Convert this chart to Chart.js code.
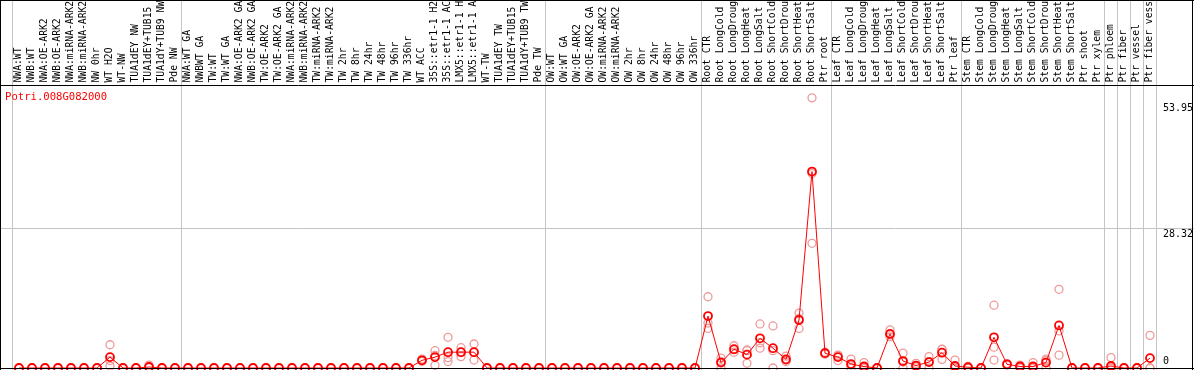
<!DOCTYPE html>
<html>
<head>
<meta charset="utf-8">
<script src="https://cdn.jsdelivr.net/npm/chart.js@4.4.1/dist/chart.umd.min.js"></script>
<style>
  html, body { margin: 0; padding: 0; background: #fff; }
  #wrap { width: 1194px; height: 370px; }
</style>
</head>
<body>
<div id="wrap"><canvas id="expChart" width="1194" height="370"></canvas></div>
<script>
const geneName = "Potri.008G082000";

const categories = [
  "NWA:WT", "NWB:WT", "NWA:OE-ARK2", "NWB:OE-ARK2", "NWA:miRNA-ARK2", "NWB:miRNA-ARK2",
  "NW 0hr", "WT H2O", "WT-NW", "TUA1dEY NW", "TUA1dEY+TUB15 NW", "TUA1dY+TUB9 NW", "Pde NW",
  "NWA:WT GA", "NWBWT GA", "TW:WT", "TW:WT GA", "NWA:OE-ARK2 GA", "NWB:OE-ARK2 GA",
  "TW:OE-ARK2", "TW:OE-ARK2 GA", "NWA:miRNA-ARK2", "NWB:miRNA-ARK2", "TW:miRNA-ARK2",
  "TW:miRNA-ARK2", "TW 2hr", "TW 8hr", "TW 24hr", "TW 48hr", "TW 96hr", "TW 336hr",
  "WT ACC", "35S::etr1-1 H2O", "35S::etr1-1 ACC", "LMX5::etr1-1 H2O", "LMX5::etr1-1 ACC",
  "WT-TW", "TUA1dEY TW", "TUA1dEY+TUB15 TW", "TUA1dY+TUB9 TW", "Pde TW",
  "OW:WT", "OW:WT GA", "OW:OE-ARK2", "OW:OE-ARK2 GA", "OW:miRNA-ARK2", "OW:miRNA-ARK2",
  "OW 2hr", "OW 8hr", "OW 24hr", "OW 48hr", "OW 96hr", "OW 336hr",
  "Root CTR", "Root LongCold", "Root LongDrought", "Root LongHeat", "Root LongSalt",
  "Root ShortCold", "Root ShortDrought", "Root ShortHeat", "Root ShortSalt", "Ptr root",
  "Leaf CTR", "Leaf LongCold", "Leaf LongDrought", "Leaf LongHeat", "Leaf LongSalt",
  "Leaf ShortCold", "Leaf ShortDrought", "Leaf ShortHeat", "Leaf ShortSalt", "Ptr leaf",
  "Stem CTR", "Stem LongCold", "Stem LongDrought", "Stem LongHeat", "Stem LongSalt",
  "Stem ShortCold", "Stem ShortDrought", "Stem ShortHeat", "Stem ShortSalt", "Ptr shoot",
  "Ptr xylem", "Ptr phloem", "Ptr fiber", "Ptr vessel", "Ptr fiber vessel"
];

// mean expression per sample
const means = [
  0, 0, 0, 0, 0, 0, 0, 2.2, 0, 0, 0.2, 0, 0,
  0, 0, 0, 0, 0, 0, 0, 0, 0, 0, 0, 0, 0, 0, 0, 0, 0, 0,
  1.55, 2.2, 3.2, 3.2, 3.2, 0, 0, 0, 0, 0,
  0, 0, 0, 0, 0, 0, 0, 0, 0, 0, 0, 0,
  10.5, 1.1, 3.8, 2.7, 6.0, 4.0, 1.75, 9.7, 39.7, 3.0,
  2.2, 0.8, 0.3, 0, 6.9, 1.4, 0.5, 1.2, 3.1, 0.4,
  0.15, 0, 6.2, 0.75, 0.3, 0.3, 1.1, 8.6, 0, 0,
  0, 0.4, 0, 0, 2.0
];

// replicate values
const repA = [
  0, 0, 0, 0, 0, 0, 0, 4.7, 0, 0, 0.6, 0, 0,
  0, 0, 0, 0, 0, 0, 0, 0, 0, 0, 0, 0, 0, 0, 0, 0, 0, 0,
  1.8, 3.5, 6.2, 4.1, 4.85, 0, 0, 0, 0, 0,
  0, 0, 0, 0, 0, 0, 0, 0, 0, 0, 0, 0,
  14.4, 2.0, 4.5, 3.5, 8.9, 8.5, 2.4, 11.1, 54.6, 3.2,
  2.6, 1.8, 1.1, 0, 7.7, 3.0, 0.95, 2.3, 3.8, 1.6,
  0.3, 0, 12.7, 0.9, 0.6, 1.1, 1.8, 15.9, 0, 0,
  0, 2.1, 0, 0, 6.6
];
const repB = [
  0, 0, 0, 0, 0, 0, 0, 0.4, 0, 0, 0.2, 0, 0,
  0, 0, 0, 0, 0, 0, 0, 0, 0, 0, 0, 0, 0, 0, 0, 0, 0, 0,
  1.5, 0.55, 1.3, 2.3, 1.6, 0, 0, 0, 0, 0,
  0, 0, 0, 0, 0, 0, 0, 0, 0, 0, 0, 0,
  8.0, 0, 3.2, 0.95, 4.0, 0, 1.3, 8.0, 25.2, 2.8,
  1.5, 0, 0, 0, 6.3, 0, 0.3, 0, 1.75, 0,
  0.15, 0, 4.2, 0.75, 0.3, 0, 0, 7.5, 0, 0,
  0, 0, 0, 0, 0
];
const repC = [
  0, 0, 0, 0, 0, 0, 0, 1.5, 0, 0, 0.1, 0, 0,
  0, 0, 0, 0, 0, 0, 0, 0, 0, 0, 0, 0, 0, 0, 0, 0, 0, 0,
  1.35, 2.55, 2.1, 3.2, 3.15, 0, 0, 0, 0, 0,
  0, 0, 0, 0, 0, 0, 0, 0, 0, 0, 0, 0,
  9.1, 1.3, 3.7, 3.65, 5.1, 3.5, 1.55, 10.0, 39.3, 3.0,
  2.5, 0.6, 0, 0, 6.7, 1.2, 0.25, 1.3, 3.75, 0,
  0, 0, 1.6, 0.6, 0, 0, 1.5, 2.6, 0, 0,
  0, 0, 0, 0, 0
];

const yTicks = [0, 28.32, 53.95];
const gridTicks = [28.32];
// sample index where a new group starts (grey separator drawn before it)
const groupStarts = [0, 13, 41, 53, 63, 73, 84, 85, 86, 87, 88];

const monoFont = "'DejaVu Sans Mono', 'Liberation Mono', monospace";

// === dessin de l'en-tête, des séparateurs et des bordures ===
const framePlugin = {
  id: "frame",
  beforeDraw(chart) {
    const { ctx, width, height } = chart;
    const x = chart.scales.x;
    const y = chart.scales.y;
    const half = (x.getPixelForValue(1) - x.getPixelForValue(0)) / 2;
    ctx.save();
    ctx.fillStyle = "#fff";
    ctx.fillRect(0, 0, width, height);
    ctx.strokeStyle = "#c4c4c4";
    ctx.lineWidth = 1;
    groupStarts.forEach(i => {
      const px = Math.round(x.getPixelForValue(0) - half + i * half * 2) - 0.5;
      ctx.beginPath();
      ctx.moveTo(px, 0);
      ctx.lineTo(px, height);
      ctx.stroke();
    });
    gridTicks.forEach(v => {
      const py = Math.round(y.getPixelForValue(v)) + 0.5;
      ctx.beginPath();
      ctx.moveTo(0, py);
      ctx.lineTo(width, py);
      ctx.stroke();
    });
    ctx.restore();
  },
  afterDraw(chart) {
    const { ctx, width, height } = chart;
    const x = chart.scales.x;
    const y = chart.scales.y;
    ctx.save();
    ctx.strokeStyle = "#000";
    ctx.lineWidth = 1;
    ctx.beginPath();
    ctx.moveTo(0, 0.5); ctx.lineTo(width, 0.5);
    ctx.moveTo(0, 85.5); ctx.lineTo(width, 85.5);
    ctx.moveTo(0.5, 0); ctx.lineTo(0.5, height);
    ctx.moveTo(1192.5, 0); ctx.lineTo(1192.5, height);
    ctx.moveTo(0, 368.5); ctx.lineTo(width, 368.5);
    ctx.stroke();

    // category labels, rotated
    ctx.fillStyle = "#000";
    ctx.font = "9.7px " + monoFont;
    ctx.textAlign = "left";
    ctx.textBaseline = "middle";
    categories.forEach((lab, i) => {
      ctx.save();
      ctx.translate(x.getPixelForValue(i) - 0.5, 82.5);
      ctx.rotate(-Math.PI / 2);
      ctx.fillText(lab, 0, 0);
      ctx.restore();
    });

    // y tick labels on the right
    ctx.font = "10px " + monoFont;
    yTicks.forEach(v => {
      const py = y.getPixelForValue(v) + (v === 0 ? -6.5 : 7);
      ctx.fillText(v === 0 ? "0" : v.toFixed(2), 1163, py);
    });

    // gene id
    ctx.fillStyle = "#ff0000";
    ctx.font = "10.6px " + monoFont;
    ctx.fillText(geneName, 5, 97);
    ctx.restore();
  }
};

function repSet(values) {
  return {
    data: values,
    showLine: false,
    pointStyle: "circle",
    pointRadius: 4,
    pointBorderWidth: 1.3,
    pointBorderColor: "#ee9a9a",
    pointBackgroundColor: "rgba(0,0,0,0)",
    clip: false
  };
}

new Chart(document.getElementById("expChart"), {
  type: "line",
  data: {
    labels: categories,
    datasets: [
      {
        data: means,
        borderColor: "#ff0000",
        borderWidth: 1,
        tension: 0,
        pointStyle: "circle",
        pointRadius: 4,
        pointBorderWidth: 1.8,
        pointBorderColor: "#ff0000",
        pointBackgroundColor: "rgba(0,0,0,0)",
        clip: false
      },
      repSet(repA),
      repSet(repB),
      repSet(repC)
    ]
  },
  options: {
    responsive: false,
    animation: false,
    layout: { autoPadding: false, padding: { left: 12.5, right: 37.5, top: 86, bottom: 2 } },
    scales: {
      x: { type: "category", display: false, offset: true },
      y: { display: false, min: 0, max: 57 }
    },
    plugins: {
      legend: { display: false },
      tooltip: { enabled: false }
    },
    events: []
  },
  plugins: [framePlugin]
});
</script>
</body>
</html>
